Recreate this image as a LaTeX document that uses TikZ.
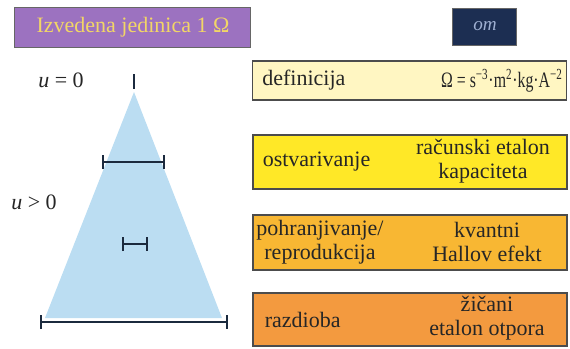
\documentclass[tikz,border=0pt]{standalone}
\usepackage{fontspec}
\setmainfont{Liberation Serif}
\usepackage{tikz}
\usetikzlibrary{arrows.meta, positioning}

\definecolor{titlefill}{HTML}{9C72C0}
\definecolor{titletext}{HTML}{F2D666}
\definecolor{navyfill}{HTML}{1C2E52}
\definecolor{navytext}{HTML}{9FB0D2}
\definecolor{deffill}{HTML}{FFF6C2}
\definecolor{ostfill}{HTML}{FFE827}
\definecolor{pohfill}{HTML}{F8B733}
\definecolor{razfill}{HTML}{F39A3F}
\definecolor{conefill}{HTML}{BBDDF2}
\definecolor{barcol}{HTML}{1B2A3E}

\begin{document}
\begin{tikzpicture}[
    x=0.5pt, y=-0.5pt,
    every node/.style={font=\fontsize{11}{12.2}\selectfont, text=black!85},
    stagebox/.style={
        rectangle, draw=black!70, line width=0.6pt,
        minimum width=157pt, inner sep=0pt
    },
    headbox/.style={rectangle, draw=black!60, line width=0.5pt, inner sep=0pt},
    lbl/.style={align=center, inner sep=0pt},
    bar/.style={{Bar[width=7pt]}-{Bar[width=7pt]}, line width=1pt, barcol},
]

\useasboundingbox (0,0) rectangle (570,349);

% ── Header ──
\node[headbox, fill=titlefill, minimum width=118pt, minimum height=20pt,
      text=titletext] (title) at (133,27) {Izvedena jedinica 1 Ω};
\node[headbox, fill=navyfill, minimum width=32pt, minimum height=18.5pt,
      text=navytext, font=\fontsize{9.6}{12}\selectfont\itshape] (unit) at (485,26.5) {om};

% ── Uncertainty cone ──
\coordinate (apex) at (134,92);
\coordinate (baseL) at (45,318);
\coordinate (baseR) at (222,318);
\fill[conefill] (apex) -- (baseR) -- (baseL) -- cycle;

\coordinate (tickT) at (134,74);
\coordinate (tickB) at (134,89);
\draw[line width=1.2pt, barcol] (tickT) -- (tickB);

\coordinate (b1l) at (102,162);
\coordinate (b1r) at (165,162);
\draw[bar] (b1l) -- (b1r);

\coordinate (b2l) at (122,244);
\coordinate (b2r) at (148,244);
\draw[bar] (b2l) -- (b2r);

\coordinate (b3l) at (40,322);
\coordinate (b3r) at (228,322);
\draw[bar] (b3l) -- (b3r);

\node[lbl] (uzero) at (61,80) {\textit{u} = 0};
\node[lbl] (upos) at (34,202) {\textit{u} > 0};

% ── Stages ──
\node[stagebox, fill=deffill, minimum height=19.5pt] (def) at (409.5,80.5) {};
\node[stagebox, fill=ostfill, minimum height=27pt] (ost) at (410,162) {};
\node[stagebox, fill=pohfill, minimum height=27.5pt] (poh) at (410,242.5) {};
\node[stagebox, fill=razfill, minimum height=26.5pt] (raz) at (410,319.5) {};

\node[lbl, anchor=west] (defL) at ([xshift=5pt]def.west) {definicija};
\node[lbl, anchor=east] (defR) at ([xshift=-2pt]def.east)
    {\scalebox{0.72}[1]{\fontsize{11}{12}\selectfont
     Ω = s\textsuperscript{−3}·m\textsuperscript{2}·kg·A\textsuperscript{−2}}};

\node[lbl, anchor=west] (ostL) at ([xshift=5pt]ost.west) {ostvarivanje};
\node[lbl] (ostR) at (483,161) {računski etalon\\kapaciteta};

\node[lbl] (pohL) at (320,242) {pohranjivanje/\\reprodukcija};
\node[lbl] (pohR) at (487,242) {kvantni\\Hallov efekt};

\node[lbl, anchor=west] (razL) at ([xshift=6pt]raz.west) {razdioba};
\node[lbl] (razR) at (487,318) {žičani\\etalon otpora};

\end{tikzpicture}
\end{document}
